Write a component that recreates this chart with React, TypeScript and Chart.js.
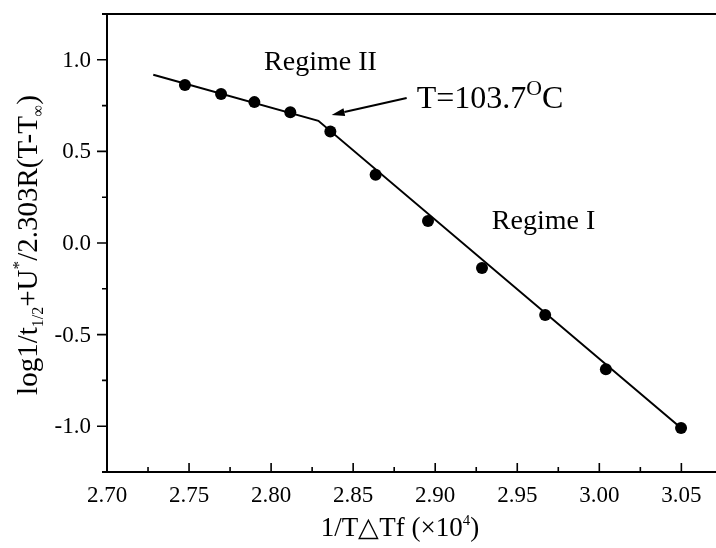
import React, { useEffect, useRef } from "react";
import { Chart, registerables } from "chart.js";

Chart.register(...registerables);

// ---- data ----
const xValues = [2.7475, 2.7695, 2.7898, 2.8117, 2.8361, 2.8637, 2.8956, 2.9285, 2.967, 3.004, 3.0498];
const yValues = [0.863, 0.813, 0.769, 0.714, 0.608, 0.372, 0.12, -0.137, -0.393, -0.689, -1.01];
const fitX = [2.7282, 2.8288, 3.0498];
const fitY = [0.918, 0.667, -1.01];

const xMajorTicks = [2.7, 2.75, 2.8, 2.85, 2.9, 2.95, 3.0, 3.05];
const xTickLabels = ["2.70", "2.75", "2.80", "2.85", "2.90", "2.95", "3.00", "3.05"];
const xMinorTicks = [2.725, 2.775, 2.825, 2.875, 2.925, 2.975, 3.025];
const yMajorTicks = [-1.0, -0.5, 0.0, 0.5, 1.0];
const yTickLabels = ["-1.0", "-0.5", "0.0", "0.5", "1.0"];
const yMinorTicks = [-0.75, -0.25, 0.25, 0.75];

const arrowTail = [2.8826, 0.791];
const arrowTip = [2.8369, 0.699];
const regime2Pos = [2.7957, 0.945];
const regime1Pos = [2.9345, 0.078];
const tempPos = [2.8887, 0.735];

const FONT = '"Liberation Serif", "Times New Roman", serif';

type Part = { t: string; s: number; dy: number };

function drawParts(ctx: CanvasRenderingContext2D, parts: Part[], base: number, x: number, y: number, align: "left" | "center") {
  let total = 0;
  const widths = parts.map((p) => {
    ctx.font = `${base * p.s}px ${FONT}`;
    const w = ctx.measureText(p.t).width;
    total += w;
    return w;
  });
  let cx = align === "center" ? x - total / 2 : x;
  parts.forEach((p, i) => {
    ctx.font = `${base * p.s}px ${FONT}`;
    ctx.fillText(p.t, cx, y + p.dy * base);
    cx += widths[i];
  });
}

const axesPlugin = {
  id: "customAxes",
  afterDatasetsDraw(chart: any) {
    const { ctx, chartArea, scales } = chart;
    const xs = scales.x;
    const ys = scales.y;
    const { left, top, bottom } = chartArea;
    const W = chart.width;
    ctx.save();
    ctx.strokeStyle = "#000";
    ctx.fillStyle = "#000";
    ctx.lineWidth = 2;
    // frame
    ctx.beginPath();
    ctx.moveTo(left - 5, top);
    ctx.lineTo(W, top);
    ctx.moveTo(left, top);
    ctx.lineTo(left, bottom);
    ctx.moveTo(left - 5, bottom);
    ctx.lineTo(W, bottom);
    ctx.stroke();

    // x ticks (inward)
    ctx.lineWidth = 1.6;
    ctx.beginPath();
    xMajorTicks.forEach((v) => {
      const px = xs.getPixelForValue(v);
      ctx.moveTo(px, bottom);
      ctx.lineTo(px, bottom - 9);
    });
    xMinorTicks.forEach((v) => {
      const px = xs.getPixelForValue(v);
      ctx.moveTo(px, bottom);
      ctx.lineTo(px, bottom - 5);
    });
    // y ticks (outward)
    yMajorTicks.forEach((v) => {
      const py = ys.getPixelForValue(v);
      ctx.moveTo(left, py);
      ctx.lineTo(left - 10, py);
    });
    yMinorTicks.forEach((v) => {
      const py = ys.getPixelForValue(v);
      ctx.moveTo(left, py);
      ctx.lineTo(left - 5, py);
    });
    ctx.stroke();

    // tick labels
    ctx.font = `23px ${FONT}`;
    ctx.textAlign = "center";
    ctx.textBaseline = "alphabetic";
    xMajorTicks.forEach((v, i) => {
      ctx.fillText(xTickLabels[i], xs.getPixelForValue(v), bottom + 30);
    });
    ctx.textAlign = "right";
    ctx.textBaseline = "middle";
    yMajorTicks.forEach((v, i) => {
      ctx.fillText(yTickLabels[i], left - 16, ys.getPixelForValue(v) + 1);
    });

    // axis titles
    ctx.textAlign = "left";
    ctx.textBaseline = "alphabetic";
    drawParts(
      ctx,
      [
        { t: "1/T\u25B3Tf (\u00D710", s: 1, dy: 0 },
        { t: "4", s: 0.55, dy: -0.42 },
        { t: ")", s: 1, dy: 0 },
      ],
      27,
      400,
      bottom + 64,
      "center"
    );

    ctx.save();
    ctx.translate(37, (top + bottom) / 2 + 2);
    ctx.rotate(-Math.PI / 2);
    drawParts(
      ctx,
      [
        { t: "log1/t", s: 1, dy: 0 },
        { t: "1/2", s: 0.55, dy: 0.22 },
        { t: "+U", s: 1, dy: 0 },
        { t: "*", s: 0.6, dy: -0.45 },
        { t: "/2.303R(T-T", s: 1, dy: 0 },
        { t: "\u221E", s: 0.55, dy: 0.22 },
        { t: ")", s: 1, dy: 0 },
      ],
      29,
      0,
      0,
      "center"
    );
    ctx.restore();

    // annotations
    ctx.textAlign = "left";
    ctx.font = `28px ${FONT}`;
    ctx.fillText("Regime II", xs.getPixelForValue(regime2Pos[0]), ys.getPixelForValue(regime2Pos[1]));
    ctx.fillText("Regime I", xs.getPixelForValue(regime1Pos[0]), ys.getPixelForValue(regime1Pos[1]));
    drawParts(
      ctx,
      [
        { t: "T=103.7", s: 1, dy: 0 },
        { t: "O", s: 0.68, dy: -0.42 },
        { t: "C", s: 1, dy: 0 },
      ],
      32,
      xs.getPixelForValue(tempPos[0]),
      ys.getPixelForValue(tempPos[1]),
      "left"
    );

    // arrow
    const tx = xs.getPixelForValue(arrowTail[0]);
    const ty = ys.getPixelForValue(arrowTail[1]);
    const hx = xs.getPixelForValue(arrowTip[0]);
    const hy = ys.getPixelForValue(arrowTip[1]);
    const ang = Math.atan2(hy - ty, hx - tx);
    const hl = 13;
    const hw = 4;
    const bx = hx - hl * Math.cos(ang);
    const by = hy - hl * Math.sin(ang);
    ctx.lineWidth = 2;
    ctx.beginPath();
    ctx.moveTo(tx, ty);
    ctx.lineTo(bx, by);
    ctx.stroke();
    ctx.beginPath();
    ctx.moveTo(hx, hy);
    ctx.lineTo(bx - hw * Math.sin(ang), by + hw * Math.cos(ang));
    ctx.lineTo(bx + hw * Math.sin(ang), by - hw * Math.cos(ang));
    ctx.closePath();
    ctx.fill();

    ctx.restore();
  },
};

export default function App() {
  const ref = useRef<HTMLCanvasElement | null>(null);
  useEffect(() => {
    if (!ref.current) return;
    const chart = new Chart(ref.current, {
      type: "scatter",
      data: {
        datasets: [
          {
            label: "fit",
            data: fitX.map((x, i) => ({ x, y: fitY[i] })),
            showLine: true,
            borderColor: "#000",
            borderWidth: 2,
            pointRadius: 0,
            tension: 0,
          },
          {
            label: "data",
            data: xValues.map((x, i) => ({ x, y: yValues[i] })),
            showLine: false,
            pointRadius: 6,
            pointBackgroundColor: "#000",
            pointBorderColor: "#000",
            pointBorderWidth: 0,
          },
        ],
      },
      options: {
        animation: false,
        responsive: false,
        devicePixelRatio: 1,
        layout: { autoPadding: false, padding: { left: 107, top: 14, right: 0, bottom: 76 } },
        plugins: { legend: { display: false }, tooltip: { enabled: false } },
        scales: {
          x: { type: "linear", min: 2.7, max: 3.0711, display: false },
          y: { type: "linear", min: -1.25, max: 1.25, display: false },
        },
      },
      plugins: [axesPlugin],
    });
    return () => chart.destroy();
  }, []);
  return (
    <div style={{ position: "fixed", left: 0, top: 0, width: 716, height: 548, background: "#fff" }}>
      <canvas ref={ref} width={716} height={548} style={{ width: 716, height: 548, display: "block" }} />
    </div>
  );
}
